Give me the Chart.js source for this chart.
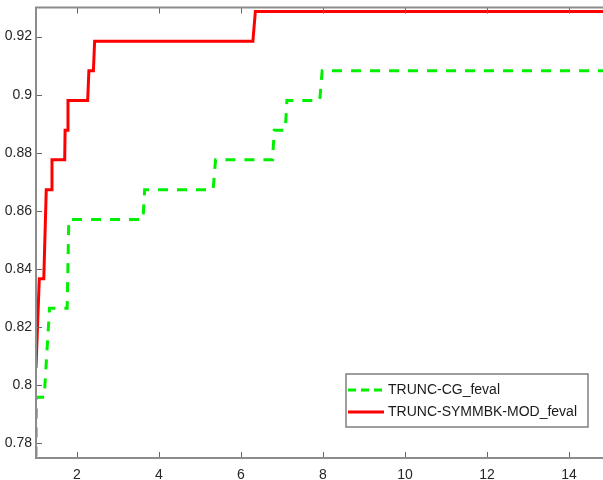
<!DOCTYPE html>
<html>
<head>
<meta charset="utf-8">
<script src="https://cdn.jsdelivr.net/npm/chart.js@4.4.1/dist/chart.umd.min.js"></script>
<style>
  html, body { margin: 0; padding: 0; background: #fff; overflow: hidden; }
  #wrap { width: 612px; height: 480px; }
</style>
</head>
<body>
<div id="wrap"><canvas id="chart" width="612" height="480"></canvas></div>
<script>
// performance profile, stair corners (tau, rho)
const cgTau = [1, 1.01, 1.2, 1.33, 1.76, 1.8, 3.61, 3.65, 5.32, 5.38, 6.77, 6.81, 7.08, 7.12, 7.92, 7.98, 15];
const cgRho = [0.7755, 0.7959, 0.7959, 0.8265, 0.8265, 0.8571, 0.8571, 0.8673, 0.8673, 0.8776, 0.8776, 0.8878, 0.8878, 0.898, 0.898, 0.9082, 0.9082];

const symTau = [1, 1.08, 1.19, 1.25, 1.39, 1.39, 1.7, 1.71, 1.76, 1.78, 2.26, 2.29, 2.4, 2.43, 6.29, 6.35, 15];
const symRho = [0.806, 0.8367, 0.8367, 0.8673, 0.8673, 0.8776, 0.8776, 0.8878, 0.8878, 0.898, 0.898, 0.9082, 0.9082, 0.9184, 0.9184, 0.9286, 0.9286];

const seriesNames = ["TRUNC-CG_feval", "TRUNC-SYMMBK-MOD_feval"];
const xTicks = [2, 4, 6, 8, 10, 12, 14];
const yTicks = [0.78, 0.8, 0.82, 0.84, 0.86, 0.88, 0.9, 0.92];
const yTickLabels = ["0.78", "0.8", "0.82", "0.84", "0.86", "0.88", "0.9", "0.92"];

const FONT = { family: "'Liberation Sans', Arial, sans-serif", size: 14 };
const TEXT = "#262626";

function zip(xs, ys) {
  return xs.map((x, i) => ({ x: x, y: ys[i] }));
}

// matlab-ish box: gray frame + inward ticks on all sides, then the legend
const boxPlugin = {
  id: "matlabBox",
  afterDraw(chart) {
    const ctx = chart.ctx;
    const a = chart.chartArea;
    const xs = chart.scales.x, ys = chart.scales.y;
    const tl = 6;
    ctx.save();

    ctx.strokeStyle = "#666";
    ctx.lineWidth = 1;
    ctx.beginPath();
    xTicks.forEach((v) => {
      const px = Math.round(xs.getPixelForValue(v)) + 0.5;
      ctx.moveTo(px, a.bottom); ctx.lineTo(px, a.bottom - tl);
      ctx.moveTo(px, a.top); ctx.lineTo(px, a.top + tl);
    });
    yTicks.forEach((v) => {
      const py = Math.round(ys.getPixelForValue(v)) + 0.5;
      ctx.moveTo(a.left, py); ctx.lineTo(a.left + tl, py);
      ctx.moveTo(a.right, py); ctx.lineTo(a.right - tl, py);
    });
    ctx.stroke();

    ctx.strokeStyle = "#8c8c8c";
    ctx.lineWidth = 2;
    ctx.strokeRect(a.left, a.top, a.right - a.left, a.bottom - a.top);

    // legend (southeast-ish)
    const w = 242, h = 53;
    const lx = a.right - 22 - w, ly = a.bottom - 31 - h;
    ctx.fillStyle = "#fff";
    ctx.fillRect(lx, ly, w, h);
    ctx.strokeStyle = "#7f7f7f";
    ctx.lineWidth = 1.5;
    ctx.strokeRect(lx, ly, w, h);

    ctx.font = FONT.size + "px " + FONT.family;
    ctx.textBaseline = "middle";
    const ds = chart.data.datasets;
    const rows = [ds[1], ds[0]];
    rows.forEach((d, i) => {
      const cy = ly + 16 + i * 22;
      ctx.strokeStyle = d.borderColor;
      ctx.lineWidth = 3;
      ctx.setLineDash(d.borderDash && d.borderDash.length ? [8, 5] : []);
      ctx.beginPath();
      ctx.moveTo(lx + 2, cy);
      ctx.lineTo(lx + 38, cy);
      ctx.stroke();
      ctx.setLineDash([]);
      ctx.fillStyle = "#1a1a1a";
      ctx.fillText(d.label, lx + 42, cy);
    });
    ctx.restore();
  }
};

new Chart(document.getElementById("chart"), {
  type: "line",
  data: {
    datasets: [
      {
        label: seriesNames[1],
        data: zip(symTau, symRho),
        borderColor: "#ff0000",
        borderWidth: 3,
        pointRadius: 0,
        fill: false,
        tension: 0
      },
      {
        label: seriesNames[0],
        data: zip(cgTau, cgRho),
        borderColor: "#00f000",
        borderWidth: 3,
        borderDash: [10, 9],
        pointRadius: 0,
        fill: false,
        tension: 0
      }
    ]
  },
  options: {
    responsive: false,
    animation: false,
    layout: { padding: { top: 7.5, right: 2, left: 0, bottom: 0 } },
    plugins: { legend: { display: false }, tooltip: { enabled: false } },
    scales: {
      x: {
        type: "linear",
        min: 1,
        max: 15,
        grid: { display: false, drawTicks: false },
        border: { display: false },
        afterBuildTicks: (s) => { s.ticks = xTicks.map((v) => ({ value: v })); },
        afterFit: (s) => { s.height = 22; s.paddingLeft = 0; s.paddingRight = 0; },
        ticks: { padding: 9, color: TEXT, font: FONT, maxRotation: 0, autoSkip: false,
                 callback: (v) => String(v) }
      },
      y: {
        type: "linear",
        min: 0.775,
        max: 0.93,
        grid: { display: false, drawTicks: false },
        border: { display: false },
        afterBuildTicks: (s) => { s.ticks = yTicks.map((v) => ({ value: v })); },
        afterFit: (s) => { s.width = 36; s.paddingTop = 0; s.paddingBottom = 0; },
        ticks: { padding: 4, color: TEXT, font: FONT, autoSkip: false,
                 callback: (v, i) => yTickLabels[i] }
      }
    }
  },
  plugins: [boxPlugin]
});
</script>
</body>
</html>
